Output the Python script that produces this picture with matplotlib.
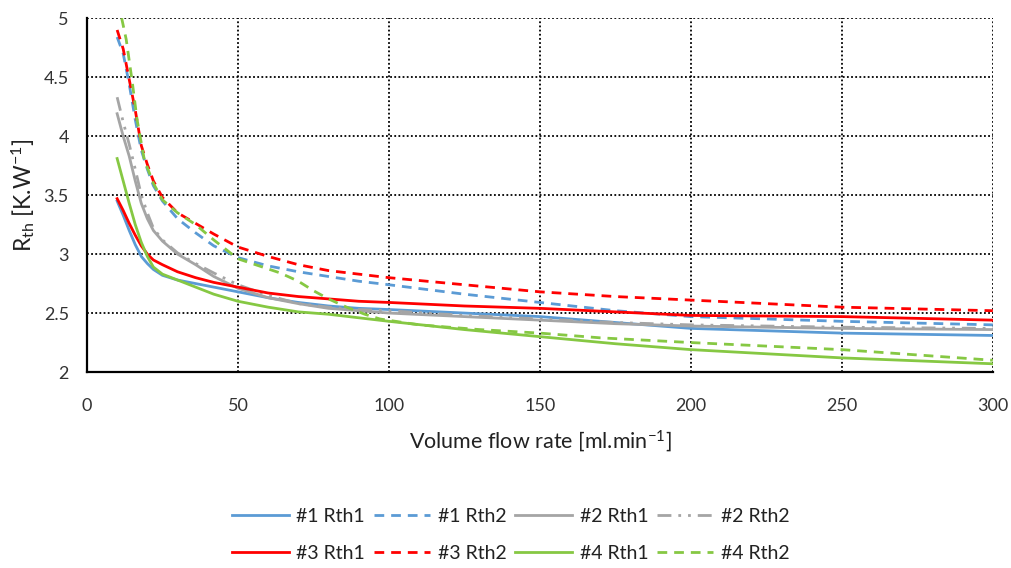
import matplotlib
matplotlib.use("Agg")
import matplotlib.pyplot as plt

# data
x_common = [10, 12, 14, 16, 18, 20, 22, 25, 30, 36, 42, 50, 60, 70, 80, 90,
            100, 125, 150, 175, 200, 250, 300]

rth1_1 = [3.45, 3.33, 3.20, 3.08, 2.98, 2.92, 2.87, 2.82, 2.78, 2.75, 2.72, 2.68,
          2.63, 2.59, 2.56, 2.54, 2.53, 2.50, 2.47, 2.42, 2.37, 2.33, 2.31]
rth2_1 = [4.84, 4.70, 4.44, 4.14, 3.88, 3.72, 3.58, 3.45, 3.30, 3.18, 3.07, 2.97,
          2.90, 2.85, 2.81, 2.77, 2.74, 2.66, 2.59, 2.52, 2.47, 2.43, 2.40]
rth1_2 = [4.19, 4.00, 3.83, 3.62, 3.43, 3.30, 3.20, 3.11, 3.00, 2.91, 2.81, 2.71,
          2.63, 2.58, 2.54, 2.52, 2.50, 2.47, 2.44, 2.41, 2.39, 2.37, 2.36]
rth2_2 = [4.33, 4.12, 3.93, 3.72, 3.50, 3.35, 3.22, 3.12, 3.01, 2.92, 2.84, 2.74,
          2.65, 2.58, 2.55, 2.53, 2.52, 2.48, 2.45, 2.42, 2.40, 2.38, 2.37]
rth1_3 = [3.47, 3.37, 3.26, 3.16, 3.07, 3.00, 2.95, 2.91, 2.85, 2.80, 2.76, 2.72,
          2.67, 2.64, 2.62, 2.60, 2.59, 2.56, 2.54, 2.51, 2.48, 2.47, 2.44]
rth2_3 = [4.90, 4.74, 4.48, 4.22, 3.92, 3.76, 3.62, 3.48, 3.35, 3.26, 3.17, 3.06,
          2.98, 2.91, 2.86, 2.83, 2.80, 2.74, 2.68, 2.64, 2.61, 2.55, 2.52]
rth1_4 = [3.81, 3.62, 3.43, 3.25, 3.10, 2.98, 2.89, 2.83, 2.78, 2.72, 2.66, 2.60,
          2.55, 2.51, 2.49, 2.46, 2.43, 2.36, 2.30, 2.24, 2.19, 2.12, 2.07]

x_rth2_4 = [11.5, 13, 15, 16.6, 19, 22, 25, 30, 36, 42, 50, 57, 64, 70, 75, 80,
            86, 92, 97, 110, 130, 150, 170, 200, 250, 300]
rth2_4 = [5.00, 4.82, 4.46, 4.14, 3.80, 3.60, 3.46, 3.35, 3.25, 3.12, 2.96, 2.90,
          2.84, 2.77, 2.69, 2.62, 2.55, 2.49, 2.45, 2.40, 2.36, 2.33, 2.29, 2.25,
          2.19, 2.10]

x_ticks = [0, 50, 100, 150, 200, 250, 300]
y_ticks = [2, 2.5, 3, 3.5, 4, 4.5, 5]
y_tick_labels = ["2", "2.5", "3", "3.5", "4", "4.5", "5"]

BLUE = "#5B9BD5"
GRAY = "#A5A5A5"
RED = "#FF0000"
GREEN = "#86C843"

plt.rcParams['font.family'] = ['Lato', 'DejaVu Sans']
plt.rcParams['mathtext.default'] = 'regular'

fig = plt.figure(figsize=(10.11, 5.68), dpi=100)
ax = fig.add_axes([0.086, 0.345, 0.896, 0.623])

lw = 2.0
dash = (0, (3.5, 2.5))
dashdotdot = (0, (5, 2.5, 1, 2.5, 1, 2.5))

h = {}
h['#1 Rth1'], = ax.plot(x_common, rth1_1, color=BLUE, lw=lw)
h['#1 Rth2'], = ax.plot(x_common, rth2_1, color=BLUE, lw=lw, ls=dash)
h['#2 Rth1'], = ax.plot(x_common, rth1_2, color=GRAY, lw=lw)
h['#2 Rth2'], = ax.plot(x_common, rth2_2, color=GRAY, lw=lw, ls=dashdotdot)
h['#3 Rth1'], = ax.plot(x_common, rth1_3, color=RED, lw=lw)
h['#3 Rth2'], = ax.plot(x_common, rth2_3, color=RED, lw=lw, ls=dash)
h['#4 Rth1'], = ax.plot(x_common, rth1_4, color=GREEN, lw=lw)
h['#4 Rth2'], = ax.plot(x_rth2_4, rth2_4, color=GREEN, lw=lw, ls=dash)

ax.set_xlim(0, 300)
ax.set_ylim(2, 5)
ax.set_xticks(x_ticks)
ax.set_yticks(y_ticks)
ax.set_yticklabels(y_tick_labels)
ax.tick_params(length=0, labelsize=13, colors="#333333")
ax.tick_params(axis='x', pad=19)
ax.tick_params(axis='y', pad=13)

ax.grid(True, color="black", ls=(0, (1, 1.3)), lw=1.3)
ax.set_axisbelow(True)
for s in ['top', 'right']:
    ax.spines[s].set_visible(False)
for s in ['left', 'bottom']:
    ax.spines[s].set_linewidth(1.6)
    ax.spines[s].set_color("black")

ax.set_xlabel("Volume flow rate [ml.min$^{-1}$]", fontsize=15.5, labelpad=10,
              color="#222222")
ax.set_ylabel("R$_{th}$ [K.W$^{-1}$]", fontsize=16.5, labelpad=5,
              color="#222222")

# column-major order so rows read #1,#2 / #3,#4
order = ['#1 Rth1', '#3 Rth1', '#1 Rth2', '#3 Rth2',
         '#2 Rth1', '#4 Rth1', '#2 Rth2', '#4 Rth2']
leg = fig.legend([h[k] for k in order], order, loc='center',
                 bbox_to_anchor=(511 / 1011, 1 - 535 / 568), ncol=4,
                 frameon=False, fontsize=14, handlelength=2.9,
                 handletextpad=0.4, columnspacing=0.45, labelspacing=1.0)
for t in leg.get_texts():
    t.set_color("#222222")

fig.savefig("out.png", dpi=100)
